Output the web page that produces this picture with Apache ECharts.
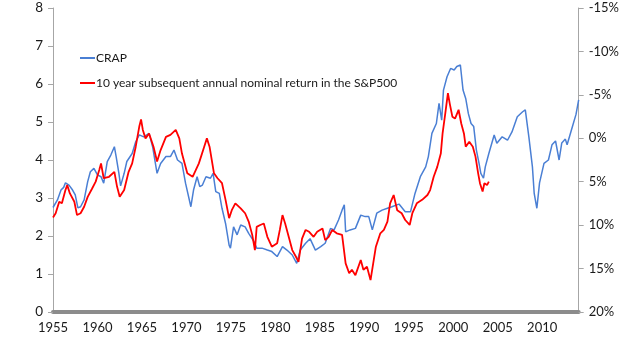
<!DOCTYPE html>
<html>
<head>
<meta charset="utf-8">
<script src="https://cdn.jsdelivr.net/npm/echarts@6/dist/echarts.min.js"></script>
<style>
  html, body { margin: 0; padding: 0; background: #fff; }
  #chart { width: 622px; height: 350px; }
</style>
</head>
<body>
<div id="chart"></div>
<script>
// CRAP (left axis)
const crapYears = [1955.0, 1955.5, 1955.9, 1956.2, 1956.4, 1956.8, 1957.2, 1957.5, 1957.8, 1958.1, 1958.5, 1958.9, 1959.2, 1959.6, 1960.0, 1960.4, 1960.7, 1961.1, 1961.5, 1961.9, 1962.1, 1962.4, 1962.6, 1963.0, 1963.3, 1963.9, 1964.3, 1964.7, 1965.2, 1965.8, 1966.2, 1966.7, 1967.1, 1967.7, 1968.2, 1968.6, 1969.0, 1969.5, 1969.9, 1970.5, 1970.8, 1971.2, 1971.5, 1971.8, 1972.2, 1972.7, 1973.0, 1973.3, 1973.7, 1974.0, 1974.4, 1974.8, 1974.95, 1975.3, 1975.7, 1976.1, 1976.6, 1977.0, 1977.6, 1977.9, 1978.5, 1979.1, 1979.6, 1980.2, 1980.8, 1981.3, 1981.9, 1982.4, 1982.8, 1983.4, 1983.9, 1984.5, 1985.1, 1985.6, 1986.2, 1986.6, 1987.1, 1987.5, 1987.75, 1987.9, 1988.4, 1989.0, 1989.6, 1990.1, 1990.5, 1990.9, 1991.4, 1992.0, 1992.6, 1993.1, 1993.9, 1994.6, 1995.2, 1995.7, 1996.3, 1996.9, 1997.2, 1997.6, 1998.1, 1998.4, 1998.7, 1998.9, 1999.3, 1999.7, 2000.1, 2000.4, 2000.8, 2001.1, 2001.4, 2001.7, 2002.0, 2002.3, 2002.6, 2002.9, 2003.1, 2003.4, 2003.6, 2004.0, 2004.6, 2004.9, 2005.5, 2006.1, 2006.6, 2007.2, 2007.8, 2008.1, 2008.5, 2008.9, 2009.1, 2009.4, 2009.7, 2010.2, 2010.7, 2011.1, 2011.5, 2011.9, 2012.2, 2012.6, 2012.8, 2013.4, 2013.8, 2014.1]
const crapValues = [2.75, 2.95, 3.21, 3.28, 3.40, 3.34, 3.21, 3.08, 2.74, 2.77, 2.95, 3.43, 3.69, 3.78, 3.61, 3.56, 3.39, 3.96, 4.13, 4.35, 4.09, 3.66, 3.32, 3.65, 3.96, 4.17, 4.48, 4.66, 4.61, 4.70, 4.35, 3.65, 3.91, 4.09, 4.09, 4.26, 4.00, 3.91, 3.39, 2.77, 3.21, 3.56, 3.30, 3.34, 3.56, 3.52, 3.65, 3.17, 3.12, 2.73, 2.33, 1.76, 1.68, 2.24, 2.03, 2.29, 2.24, 2.07, 1.85, 1.68, 1.68, 1.63, 1.59, 1.46, 1.72, 1.63, 1.50, 1.28, 1.63, 1.81, 1.93, 1.63, 1.72, 1.81, 2.20, 2.16, 2.42, 2.68, 2.82, 2.11, 2.16, 2.20, 2.55, 2.51, 2.51, 2.16, 2.60, 2.68, 2.73, 2.77, 2.84, 2.64, 2.64, 3.12, 3.56, 3.82, 4.09, 4.70, 4.96, 5.49, 5.05, 5.84, 6.19, 6.41, 6.37, 6.46, 6.50, 5.84, 5.62, 5.22, 4.96, 4.88, 4.26, 3.91, 3.65, 3.52, 3.82, 4.17, 4.66, 4.44, 4.61, 4.52, 4.74, 5.14, 5.27, 5.32, 4.61, 3.82, 3.12, 2.73, 3.40, 3.91, 4.00, 4.40, 4.50, 4.00, 4.45, 4.55, 4.40, 4.88, 5.20, 5.58]

// 10 year subsequent annual nominal return, % (right axis, inverted)
const retYears = [1955.0, 1955.3, 1955.7, 1956.0, 1956.4, 1956.6, 1956.9, 1957.4, 1957.7, 1958.1, 1958.5, 1958.9, 1959.4, 1959.8, 1960.2, 1960.4, 1960.7, 1961.3, 1961.9, 1962.2, 1962.5, 1963.0, 1963.5, 1963.9, 1964.3, 1964.7, 1964.9, 1965.1, 1965.4, 1965.8, 1966.3, 1966.7, 1967.1, 1967.7, 1968.2, 1968.8, 1969.2, 1969.5, 1970.1, 1970.7, 1971.4, 1972.0, 1972.3, 1972.6, 1973.1, 1973.5, 1974.0, 1974.4, 1974.8, 1975.1, 1975.5, 1976.1, 1976.6, 1977.0, 1977.4, 1977.7, 1977.9, 1978.3, 1978.7, 1979.1, 1979.6, 1980.2, 1980.5, 1980.8, 1981.1, 1981.5, 1981.9, 1982.3, 1982.6, 1983.0, 1983.4, 1983.8, 1984.3, 1984.7, 1985.3, 1985.6, 1986.0, 1986.4, 1986.9, 1987.5, 1987.9, 1988.3, 1988.6, 1989.0, 1989.6, 1989.9, 1990.3, 1990.7, 1990.9, 1991.3, 1991.8, 1992.2, 1992.6, 1992.9, 1993.3, 1993.7, 1994.2, 1994.6, 1995.1, 1995.4, 1995.9, 1996.5, 1997.1, 1997.4, 1997.8, 1998.2, 1998.6, 1998.8, 1999.1, 1999.4, 1999.6, 1999.9, 2000.2, 2000.6, 2000.9, 2001.2, 2001.4, 2001.8, 2002.2, 2002.5, 2002.8, 2003.0, 2003.3, 2003.5, 2003.8, 2004.0]
const retValues = [9.11, 8.63, 7.31, 7.49, 5.96, 5.39, 6.35, 7.31, 8.84, 8.63, 7.88, 6.74, 5.78, 4.99, 3.64, 2.89, 4.60, 4.43, 3.86, 5.56, 6.74, 5.96, 3.86, 2.89, 0.97, -1.35, -2.18, -0.96, 0.01, -0.56, 0.97, 2.68, 1.36, -0.17, -0.39, -0.96, 0.01, 1.76, 4.03, 4.43, 2.89, 0.97, 0.01, 0.97, 4.03, 4.60, 5.17, 7.09, 9.19, 8.28, 7.49, 8.06, 8.63, 9.59, 11.12, 12.87, 10.20, 9.98, 9.81, 11.34, 12.48, 12.08, 10.55, 8.84, 9.81, 11.34, 12.87, 13.61, 14.23, 11.56, 10.55, 10.77, 11.34, 10.77, 10.38, 11.73, 11.34, 10.55, 10.94, 11.12, 14.40, 15.54, 15.14, 15.76, 14.01, 15.14, 14.79, 16.33, 16.50, 12.48, 10.94, 10.55, 9.59, 7.49, 6.53, 8.28, 8.63, 9.41, 9.98, 8.63, 7.49, 7.09, 6.53, 5.96, 4.43, 3.29, 1.76, -0.56, -2.84, -5.20, -4.02, -2.49, -2.27, -3.28, -1.70, -0.56, 0.97, 0.40, 0.97, 2.11, 4.03, 5.17, 6.13, 5.17, 5.39, 4.99]

const seriesNames = ["CRAP", "10 year subsequent annual nominal return in the S&P500"]

const font = "Lato"
const chart = echarts.init(document.getElementById("chart"))

const option = {
  animation: false,
  textStyle: { fontFamily: font },
  grid: { left: 53, right: 42, top: 8, bottom: 38 },
  legend: {
    orient: "vertical",
    left: 80,
    top: 52,
    padding: 0,
    itemGap: 13,
    itemWidth: 15,
    itemHeight: 2,
    icon: "rect",
    textStyle: { fontFamily: font, fontSize: 12, color: "#1a1a1a", padding: [0, 0, 0, -4] },
    data: seriesNames
  },
  xAxis: {
    type: "value",
    min: 1955,
    max: 2014.1,
    interval: 5,
    axisLine: { lineStyle: { color: "#8c8c8c", width: 4 } },
    axisTick: { show: false },
    splitLine: { show: false },
    axisLabel: {
      color: "#1a1a1a",
      fontSize: 13,
      margin: 9,
      showMaxLabel: false,
      formatter: function (v) { return String(Math.round(v)) }
    }
  },
  yAxis: [
    {
      type: "value",
      position: "left",
      min: 0,
      max: 8,
      interval: 1,
      axisLine: { show: true, lineStyle: { color: "#a6a6a6" } },
      axisTick: { show: true, length: 5, lineStyle: { color: "#a6a6a6" } },
      splitLine: { show: false },
      axisLabel: { color: "#1a1a1a", fontSize: 13.5, margin: 10 }
    },
    {
      type: "value",
      position: "right",
      min: -15,
      max: 20,
      interval: 5,
      inverse: true,
      axisLine: { show: true, lineStyle: { color: "#a6a6a6" } },
      axisTick: { show: true, length: 5, lineStyle: { color: "#a6a6a6" } },
      splitLine: { show: false },
      axisLabel: { color: "#1a1a1a", fontSize: 13, margin: 10, formatter: "{value}%" }
    }
  ],
  series: [
    {
      name: seriesNames[0],
      type: "line",
      yAxisIndex: 0,
      symbol: "none",
      color: "#4a7fd4",
      lineStyle: { width: 1.5, color: "#4a7fd4" },
      data: crapYears.map((y, i) => [y, crapValues[i]])
    },
    {
      name: seriesNames[1],
      type: "line",
      yAxisIndex: 1,
      symbol: "none",
      color: "#ff0000",
      lineStyle: { width: 1.8, color: "#ff0000" },
      data: retYears.map((y, i) => [y, retValues[i]])
    }
  ]
}
chart.setOption(option)

window.addEventListener("resize", function () {
  chart.resize()
})
</script>
</body>
</html>
